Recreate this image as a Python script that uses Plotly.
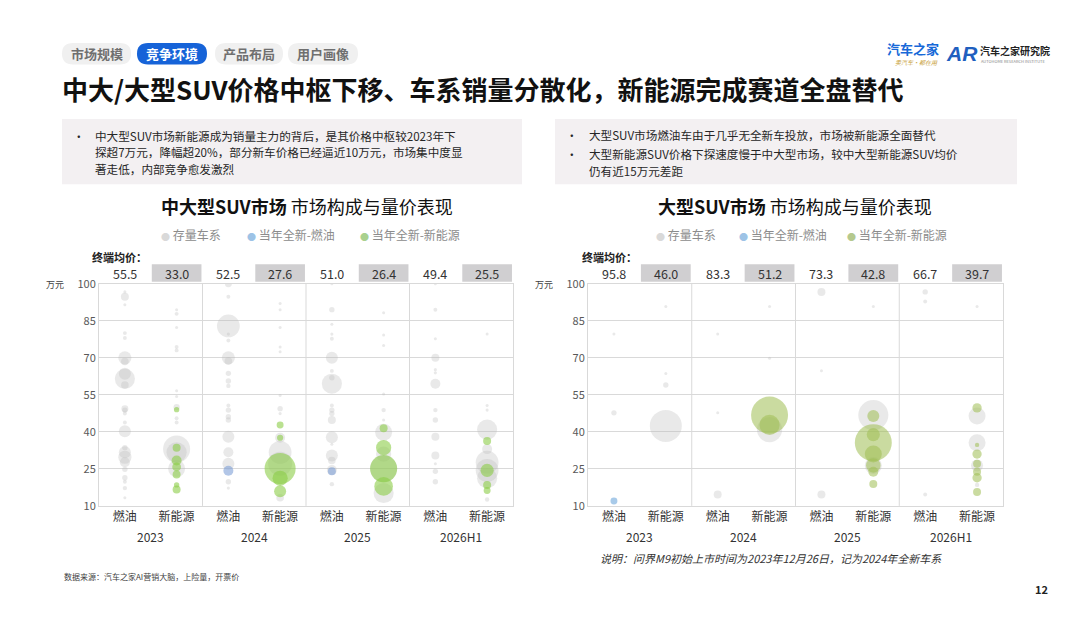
import plotly.graph_objects as go

W, H = 1080, 622
FONT = 'Noto Sans CJK SC, Noto Sans, sans-serif'

YEARS = ['2023', '2024', '2025', '2026H1']
POWERS = ['燃油', '新能源']

# 终端均价（万元）
MID_PRICE_ICE = [55.5, 52.5, 51.0, 49.4]
MID_PRICE_NEV = [33.0, 27.6, 26.4, 25.5]
LARGE_PRICE_ICE = [95.8, 83.3, 73.3, 66.7]
LARGE_PRICE_NEV = [46.0, 51.2, 42.8, 39.7]

# bubbles: (year, power, price 万元, volume 千辆)
MID_STOCK = [
    ('2023', '燃油', 96.7, 0.5), ('2023', '燃油', 94.7, 3.3), ('2023', '燃油', 91.5, 0.2),
    ('2023', '燃油', 80.0, 0.8), ('2023', '燃油', 78.0, 0.8), ('2023', '燃油', 70.0, 9),
    ('2023', '燃油', 68.5, 3), ('2023', '燃油', 63.5, 7.5), ('2023', '燃油', 61.5, 21),
    ('2023', '燃油', 59.0, 3), ('2023', '燃油', 49.4, 2.5), ('2023', '燃油', 48.8, 1.5),
    ('2023', '燃油', 47.4, 0.8), ('2023', '燃油', 43.8, 0.8), ('2023', '燃油', 40.2, 7.5),
    ('2023', '燃油', 33.6, 1.5), ('2023', '燃油', 31.7, 7.5), ('2023', '燃油', 29.7, 9),
    ('2023', '燃油', 27.7, 5.2), ('2023', '燃油', 24.8, 1.5), ('2023', '燃油', 21.4, 1.5),
    ('2023', '燃油', 19.8, 0.8), ('2023', '燃油', 17.2, 1), ('2023', '燃油', 13.3, 0.2),
    ('2023', '新能源', 89.5, 0.2), ('2023', '新能源', 87.8, 0.8), ('2023', '新能源', 82.3, 0.2),
    ('2023', '新能源', 74.4, 0.8), ('2023', '新能源', 73.0, 0.8), ('2023', '新能源', 56.6, 0.2),
    ('2023', '新能源', 54.3, 0.2), ('2023', '新能源', 50.0, 2), ('2023', '新能源', 45.5, 0.8),
    ('2023', '新能源', 43.8, 0.8), ('2023', '新能源', 33.0, 38), ('2023', '新能源', 31.7, 21),
    ('2023', '新能源', 25.1, 15),
    ('2024', '燃油', 100.0, 2.5), ('2024', '燃油', 94.7, 0.8), ('2024', '燃油', 82.9, 27),
    ('2024', '燃油', 79.6, 0.5), ('2024', '燃油', 77.0, 0.8), ('2024', '燃油', 70.0, 9),
    ('2024', '燃油', 68.7, 3), ('2024', '燃油', 63.7, 1.5), ('2024', '燃油', 60.6, 1.5),
    ('2024', '燃油', 58.6, 1), ('2024', '燃油', 50.7, 0.8), ('2024', '燃油', 48.8, 1.5),
    ('2024', '燃油', 46.1, 1.5), ('2024', '燃油', 44.8, 1.5), ('2024', '燃油', 38.0, 7.5),
    ('2024', '燃油', 31.7, 5.2), ('2024', '燃油', 27.1, 7.5), ('2024', '燃油', 19.8, 1.5),
    ('2024', '燃油', 17.2, 0.5),
    ('2024', '新能源', 92.0, 0.2), ('2024', '新能源', 89.5, 0.2), ('2024', '新能源', 82.3, 0.2),
    ('2024', '新能源', 74.4, 0.2), ('2024', '新能源', 72.4, 0.2), ('2024', '新能源', 54.7, 0.2),
    ('2024', '新能源', 49.4, 1.5), ('2024', '新能源', 47.4, 0.5), ('2024', '新能源', 37.6, 5.2),
    ('2024', '新能源', 31.7, 27), ('2024', '新能源', 27.1, 30), ('2024', '新能源', 13.3, 3),
    ('2025', '燃油', 100.0, 0.2), ('2025', '燃油', 89.5, 1.5), ('2025', '燃油', 83.6, 0.2),
    ('2025', '燃油', 79.6, 0.5), ('2025', '燃油', 77.7, 0.8), ('2025', '燃油', 70.0, 7.5),
    ('2025', '燃油', 64.7, 0.8), ('2025', '燃油', 61.9, 1.5), ('2025', '燃油', 59.5, 21),
    ('2025', '燃油', 50.7, 0.8), ('2025', '燃油', 48.8, 1.5), ('2025', '燃油', 47.4, 1.5),
    ('2025', '燃油', 44.8, 3.3), ('2025', '燃油', 37.8, 7.5), ('2025', '燃油', 35.0, 0.3),
    ('2025', '燃油', 30.4, 7.5), ('2025', '燃油', 28.4, 3), ('2025', '燃油', 24.5, 5.2),
    ('2025', '燃油', 18.8, 1),
    ('2025', '新能源', 88.2, 0.2), ('2025', '新能源', 79.2, 0.3), ('2025', '新能源', 75.0, 0.2),
    ('2025', '新能源', 55.3, 0.2), ('2025', '新能源', 48.8, 1), ('2025', '新能源', 44.8, 0.5),
    ('2025', '新能源', 39.8, 15), ('2025', '新能源', 31.0, 12), ('2025', '新能源', 25.0, 38),
    ('2025', '新能源', 15.2, 21),
    ('2026H1', '燃油', 100.0, 0.2), ('2026H1', '燃油', 89.5, 0.8), ('2026H1', '燃油', 77.7, 0.3),
    ('2026H1', '燃油', 70.0, 3.3), ('2026H1', '燃油', 65.2, 0.5), ('2026H1', '燃油', 63.9, 0.5),
    ('2026H1', '燃油', 59.5, 5.2), ('2026H1', '燃油', 48.8, 1), ('2026H1', '燃油', 44.8, 1.5),
    ('2026H1', '燃油', 38.0, 3.3), ('2026H1', '燃油', 30.4, 3.3), ('2026H1', '燃油', 27.1, 0.3),
    ('2026H1', '燃油', 24.0, 1.5), ('2026H1', '燃油', 19.8, 1.5),
    ('2026H1', '新能源', 79.6, 0.2), ('2026H1', '新能源', 50.7, 0.3), ('2026H1', '新能源', 48.8, 0.5),
    ('2026H1', '新能源', 40.9, 21), ('2026H1', '新能源', 33.0, 5.2), ('2026H1', '新能源', 27.7, 27),
    ('2026H1', '新能源', 24.4, 27), ('2026H1', '新能源', 21.2, 21), ('2026H1', '新能源', 12.6, 1),
]
MID_NEW_ICE = [
    ('2024', '燃油', 24.2, 5.2), ('2025', '燃油', 24.0, 3.3),
]
MID_NEW_NEV = [
    ('2023', '新能源', 49.0, 1.5), ('2023', '新能源', 33.6, 3.3), ('2023', '新能源', 28.4, 5.2),
    ('2023', '新能源', 25.8, 4), ('2023', '新能源', 22.7, 3.3), ('2023', '新能源', 18.5, 1.5),
    ('2023', '新能源', 16.6, 3.3),
    ('2024', '新能源', 42.8, 2.5), ('2024', '新能源', 37.6, 2), ('2024', '新能源', 25.1, 50),
    ('2024', '新能源', 21.2, 12), ('2024', '新能源', 15.9, 7.5),
    ('2025', '新能源', 41.5, 3.3), ('2025', '新能源', 33.6, 12), ('2025', '新能源', 25.1, 38),
    ('2025', '新能源', 17.9, 18),
    ('2026H1', '新能源', 36.3, 3.3), ('2026H1', '新能源', 24.4, 9), ('2026H1', '新能源', 18.5, 3.3),
    ('2026H1', '新能源', 16.2, 2.5),
]

LARGE_STOCK = [
    ('2023', '燃油', 79.6, 0.2), ('2023', '燃油', 47.7, 1.5),
    ('2023', '新能源', 90.8, 0.2), ('2023', '新能源', 63.6, 0.3), ('2023', '新能源', 59.0, 1.5),
    ('2023', '新能源', 42.4, 53),
    ('2024', '燃油', 79.6, 0.1), ('2024', '燃油', 47.7, 0.2), ('2024', '燃油', 14.6, 3.3),
    ('2024', '新能源', 90.8, 0.2), ('2024', '新能源', 69.8, 0.2), ('2024', '新能源', 40.9, 33),
    ('2025', '燃油', 96.7, 3.3), ('2025', '燃油', 64.8, 0.1), ('2025', '燃油', 14.6, 3.3),
    ('2025', '新能源', 90.8, 0.2), ('2025', '新能源', 46.8, 47), ('2025', '新能源', 26.4, 15),
    ('2026H1', '燃油', 96.7, 1.5), ('2026H1', '燃油', 92.8, 0.8), ('2026H1', '燃油', 14.6, 0.8),
    ('2026H1', '新能源', 90.8, 0.2), ('2026H1', '新能源', 46.4, 15), ('2026H1', '新能源', 35.6, 15),
    ('2026H1', '新能源', 26.4, 7.5), ('2026H1', '新能源', 18.5, 1),
]
LARGE_NEW_ICE = [
    ('2023', '燃油', 12.0, 2.5),
]
LARGE_NEW_NEV = [
    ('2024', '新能源', 46.8, 71), ('2024', '新能源', 42.8, 21),
    ('2025', '新能源', 46.4, 7.5), ('2025', '新能源', 38.9, 9), ('2025', '新能源', 35.6, 71),
    ('2025', '新能源', 31.0, 15), ('2025', '新能源', 26.4, 11), ('2025', '新能源', 23.8, 5.2),
    ('2025', '新能源', 18.9, 3.3),
    ('2026H1', '新能源', 49.7, 4.5), ('2026H1', '新能源', 34.7, 1), ('2026H1', '新能源', 31.0, 4.5),
    ('2026H1', '新能源', 27.1, 3.3), ('2026H1', '新能源', 23.8, 3.3), ('2026H1', '新能源', 21.4, 4.5),
    ('2026H1', '新能源', 15.6, 3.3),
]

SERIES_NAMES = ['存量车系', '当年全新-燃油', '当年全新-新能源']
LEFT_COLORS = ['rgba(185,185,185,0.45)', 'rgba(125,160,215,0.85)', 'rgba(140,205,70,0.85)']
RIGHT_COLORS = ['rgba(185,185,185,0.45)', 'rgba(100,160,215,0.8)', 'rgba(160,190,85,0.8)']
LEGEND_LEFT = ['#d9d9d9', '#9dc3e6', '#a9d18e']
LEGEND_RIGHT = ['#d9d9d9', '#9dc3e6', '#b5c98e']

SIZEREF = 2 * 60 / 34 ** 2


def px(x):
    return x / W


def py(y):
    return 1 - y / H


def cat_pos(year, power):
    return YEARS.index(year) * 2 + POWERS.index(power)


def pill(x0, y0, x1, y1):
    r = (y1 - y0) / 2
    pts = [
        ('M', x0 + r, y0), ('L', x1 - r, y0), ('Q', x1, y0, x1, y0 + r),
        ('Q', x1, y1, x1 - r, y1), ('L', x0 + r, y1), ('Q', x0, y1, x0, y0 + r),
        ('Q', x0, y0, x0 + r, y0),
    ]
    out = ''
    for p in pts:
        coords = p[1:]
        segs = [f'{px(coords[i]):.5f},{py(coords[i + 1]):.5f}' for i in range(0, len(coords), 2)]
        out += p[0] + ' ' + ' '.join(segs) + ' '
    return out + 'Z'


fig = go.Figure()

for data, color, xa, ya in [
    (MID_STOCK, LEFT_COLORS[0], 'x', 'y'),
    (MID_NEW_ICE, LEFT_COLORS[1], 'x', 'y'),
    (MID_NEW_NEV, LEFT_COLORS[2], 'x', 'y'),
    (LARGE_STOCK, RIGHT_COLORS[0], 'x2', 'y2'),
    (LARGE_NEW_ICE, RIGHT_COLORS[1], 'x2', 'y2'),
    (LARGE_NEW_NEV, RIGHT_COLORS[2], 'x2', 'y2'),
]:
    fig.add_trace(go.Scatter(
        x=[cat_pos(d[0], d[1]) for d in data],
        y=[d[2] for d in data],
        mode='markers',
        marker=dict(size=[d[3] for d in data], sizemode='area', sizeref=SIZEREF,
                    sizemin=1.5, color=color, line=dict(width=0)),
        xaxis=xa, yaxis=ya, showlegend=False,
    ))

ann = []
shapes = []

# tabs
tabs = [('市场规模', 62, 131, False), ('竞争环境', 137, 207, True),
        ('产品布局', 215, 283, False), ('用户画像', 288, 358, False)]
for label, x0, x1, active in tabs:
    shapes.append(dict(type='path', path=pill(x0, 35, x1, 57), xref='paper', yref='paper',
                       fillcolor='#1663d8' if active else '#f0f0f0', line=dict(width=0)))
    ann.append(dict(x=px((x0 + x1) / 2), y=py(46), text=f'<b>{label}</b>',
                    font=dict(size=13, color='white' if active else '#6f6f6f')))

ann.append(dict(x=px(60), y=py(82), xanchor='left',
                text='<b>中大/大型SUV价格中枢下移、车系销量分散化，新能源完成赛道全盘替代</b>',
                font=dict(size=26, color='#111111')))

# logos
ann.append(dict(x=px(885), y=py(41), xanchor='left', text='<b>汽车之家</b>',
                font=dict(size=13, color='#1769d8')))
ann.append(dict(x=px(893), y=py(55), xanchor='left', text='<i>卖汽车·都在用</i>',
                font=dict(size=6, color='#c9a23c')))
ann.append(dict(x=px(944), y=py(46), xanchor='left', text='<b><i>AR</i></b>',
                font=dict(size=21, color='#1f5fbf', family='Liberation Sans')))
ann.append(dict(x=px(978), y=py(43), xanchor='left', text='<b>汽车之家研究院</b>',
                font=dict(size=10, color='#222222')))
ann.append(dict(x=px(979), y=py(53), xanchor='left', text='AUTOHOME RESEARCH INSTITUTE',
                font=dict(size=4, color='#888888')))

# text boxes
shapes.append(dict(type='rect', xref='paper', yref='paper', x0=px(62), x1=px(522),
                   y0=py(180), y1=py(113), fillcolor='#f3f0f2', line=dict(width=0), layer='below'))
shapes.append(dict(type='rect', xref='paper', yref='paper', x0=px(555), x1=px(1017),
                   y0=py(180), y1=py(113), fillcolor='#f3f0f2', line=dict(width=0), layer='below'))
txt_font = dict(size=11.6, color='#262626')
box_lines = [
    (72, 94, 130, True, '中大型SUV市场新能源成为销量主力的背后，是其价格中枢较2023年下'),
    (72, 94, 147, False, '探超7万元，降幅超20%，部分新车价格已经逼近10万元，市场集中度显'),
    (72, 94, 164, False, '著走低，内部竞争愈发激烈'),
    (565, 588, 129, True, '大型SUV市场燃油车由于几乎无全新车投放，市场被新能源全面替代'),
    (565, 588, 149, True, '大型新能源SUV价格下探速度慢于中大型市场，较中大型新能源SUV均价'),
    (565, 588, 166, False, '仍有近15万元差距'),
]
for bx, tx, ty, bullet, line in box_lines:
    if bullet:
        ann.append(dict(x=px(bx), y=py(ty), xanchor='left', text='•', font=txt_font,
                        borderpad=0))
    ann.append(dict(x=px(tx), y=py(ty), xanchor='left', text=line, font=txt_font,
                    borderpad=0))

# per-chart decorations
charts = [
    ('x', 'y', 99, 513, 307, '<b>中大型SUV市场</b> 市场构成与量价表现', [163, 249, 362],
     LEGEND_LEFT, MID_PRICE_ICE, MID_PRICE_NEV, 90),
    ('x2', 'y2', 588, 1003, 795, '<b>大型SUV市场</b> 市场构成与量价表现', [658, 741, 849],
     LEGEND_RIGHT, LARGE_PRICE_ICE, LARGE_PRICE_NEV, 580),
]
for xa, ya, xl, xr, tx, title, leg_x, leg_c, p_ice, p_nev, lab_x in charts:
    ann.append(dict(x=px(tx), y=py(202), text=title, font=dict(size=18, color='#111111')))
    for name, lx, lc in zip(SERIES_NAMES, leg_x, leg_c):
        ann.append(dict(x=px(lx - 4), y=py(231), xanchor='left',
                        text=f'<span style="color:{lc};font-size:9px">●</span> {name}',
                        font=dict(size=12, color='#8c8c8c')))
    ann.append(dict(x=px(lab_x), y=py(255), xanchor='left', text='<b>终端均价：</b>',
                    font=dict(size=11, color='#222222')))
    ann.append(dict(x=px(xl - 33), y=py(283), xanchor='right', text='万元',
                    font=dict(size=9, color='#404040')))
    for i, yr in enumerate(YEARS):
        ann.append(dict(x=i * 2, xref=xa, y=py(271), text=f'{p_ice[i]:.1f}',
                        font=dict(size=12.5, color='#333333')))
        ann.append(dict(x=i * 2 + 1, xref=xa, y=py(271), text=f'{p_nev[i]:.1f}',
                        font=dict(size=12.5, color='#333333')))
        shapes.append(dict(type='rect', xref=xa, yref='paper', x0=i * 2 + 0.52, x1=i * 2 + 1.48,
                           y0=py(280), y1=py(262), fillcolor='#d0cfd1', line=dict(width=0),
                           layer='below'))
        ann.append(dict(x=i * 2 + 0.5, xref=xa, y=py(541), text=yr,
                        font=dict(size=12, color='#333333')))
        if i > 0:
            shapes.append(dict(type='line', xref=xa, yref=ya + ' domain', x0=i * 2 - 0.5,
                               x1=i * 2 - 0.5, y0=0, y1=1, line=dict(color='#d9d9d9', width=1)))

ann.append(dict(x=px(598), y=py(563), xanchor='left',
                text='<i>说明：问界M9初始上市时间为2023年12月26日，记为2024年全新车系</i>',
                font=dict(size=11, color='#333333')))
ann.append(dict(x=px(62), y=py(582), xanchor='left', text='数据来源：汽车之家AI营销大脑，上险量，开票价',
                font=dict(size=8, color='#404040')))
ann.append(dict(x=px(1050), y=py(595), xanchor='right', text='<b>12</b>',
                font=dict(size=11, color='#222222')))

for a in ann:
    a.setdefault('xref', 'paper')
    a.setdefault('yref', 'paper')
    a.setdefault('xanchor', 'center')
    a.setdefault('yanchor', 'middle')
    a['showarrow'] = False

x_common = dict(range=[-0.5, 7.5], tickvals=list(range(8)), ticktext=POWERS * 4,
                showgrid=False, zeroline=False, showline=True, mirror=True,
                linecolor='#d9d9d9', ticks='', tickfont=dict(size=12, color='#333333'))
y_common = dict(range=[10, 100], tickvals=[10, 25, 40, 55, 70, 85, 100],
                showgrid=True, gridcolor='#d9d9d9', zeroline=False, showline=True, mirror=True,
                linecolor='#d9d9d9', ticks='', tickfont=dict(size=11, color='#595959'))

fig.update_layout(
    width=W, height=H,
    margin=dict(l=0, r=0, t=0, b=0),
    paper_bgcolor='white', plot_bgcolor='white',
    font=dict(family=FONT),
    showlegend=False,
    xaxis=dict(domain=[px(99), px(513)], anchor='y', **x_common),
    yaxis=dict(domain=[py(510), py(282)], anchor='x', **y_common),
    xaxis2=dict(domain=[px(588), px(1003)], anchor='y2', **x_common),
    yaxis2=dict(domain=[py(510), py(282)], anchor='x2', **y_common),
    annotations=ann,
    shapes=shapes,
)

# page body has a default 8px margin; drop it so the figure sits at the window corner
fig.write_html('out.html', config={'displayModeBar': False},
               post_script="document.body.style.margin='0';")
